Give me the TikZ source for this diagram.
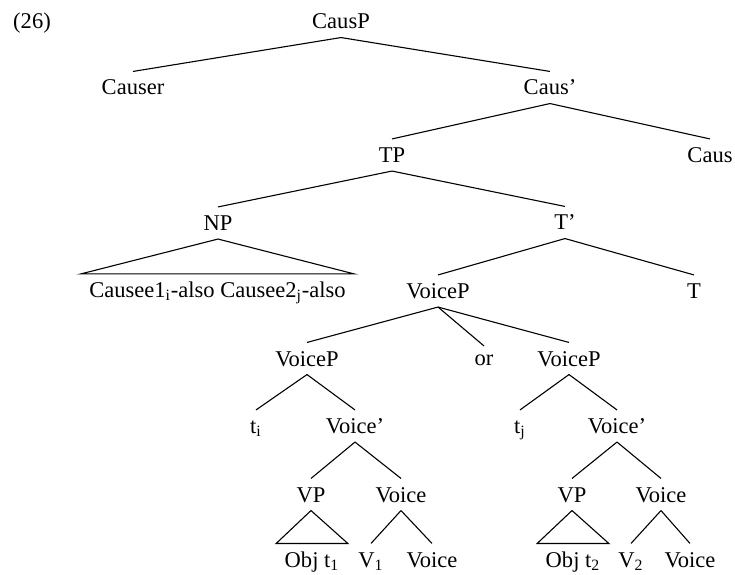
\documentclass[tikz,border=0pt]{standalone}
\usepackage{fontspec}
\setmainfont{Liberation Serif}
\begin{document}
\begin{tikzpicture}[x=.5bp, y=-.5bp, line width=.55bp, every node/.style={font=\fontsize{11.3pt}{13pt}\selectfont, text height=7.5bp, text depth=0pt, inner sep=4bp}]
 \useasboundingbox (0,0) rectangle (735,575);
 \node (ex) at (32,21.5){(26)};
 \node (causp) at (341,21.5){CausP};
 \node (causer) at (133,87.5){Causer};
 \node (causb) at (550,87.5){Caus’};
 \node (tp) at (392,155){TP};
 \node (caus) at (710,155){Caus};
 \node (np) at (218,223){NP};
 \node (tb) at (565,222.5){T’};
 \node (cee) at (217.5,290){Causee1\textsubscript{i}-also Causee2\textsubscript{j}-also};
 \node (voicep) at (438,291){VoiceP};
 \node (t) at (694,291){T};
 \node (vpa) at (307,358.5){VoiceP};
 \node[text height=5.5bp] (alt) at (484,360){or};
 \node (vpb) at (569,358.5){VoiceP};
 \node (ti) at (256,426){t\textsubscript{i}};
 \node (vba) at (355,426){Voice’};
 \node (tj) at (520,426){t\textsubscript{j}};
 \node (vbb) at (617,426){Voice’};
 \node (vpl) at (311,494.5){VP};
 \node (voa) at (401,494.5){Voice};
 \node (vpr) at (572,494.5){VP};
 \node (vob) at (661,494.5){Voice};
 \node (obja) at (312,559.5){Obj t\textsubscript{1}};
 \node (va) at (371,559.5){V\textsubscript{1}};
 \node (vva) at (432,559.5){Voice};
 \node (objb) at (573,559.5){Obj t\textsubscript{2}};
 \node (vb) at (631,559.5){V\textsubscript{2}};
 \node (vvb) at (690,559.5){Voice};
 \foreach \a/\b in {causp/causer, causp/causb, causb/tp, causb/caus, tp/np, tp/tb, tb/voicep, tb/t,
   voicep/vpa, voicep/alt, voicep/vpb, vpa/ti, vpa/vba, vpb/tj, vpb/vbb,
   vba/vpl, vba/voa, vbb/vpr, vbb/vob, voa/va, voa/vva, vob/vb, vob/vvb}
 {
     \draw(\a.south)--(\b.north);
 }
 \draw(np.south)--(cee.north west)--(cee.north east)--cycle;
 \draw(vpl.south)--(obja.north west)--(obja.north east)--cycle;
 \draw(vpr.south)--(objb.north west)--(objb.north east)--cycle;
\end{tikzpicture}
\end{document}
